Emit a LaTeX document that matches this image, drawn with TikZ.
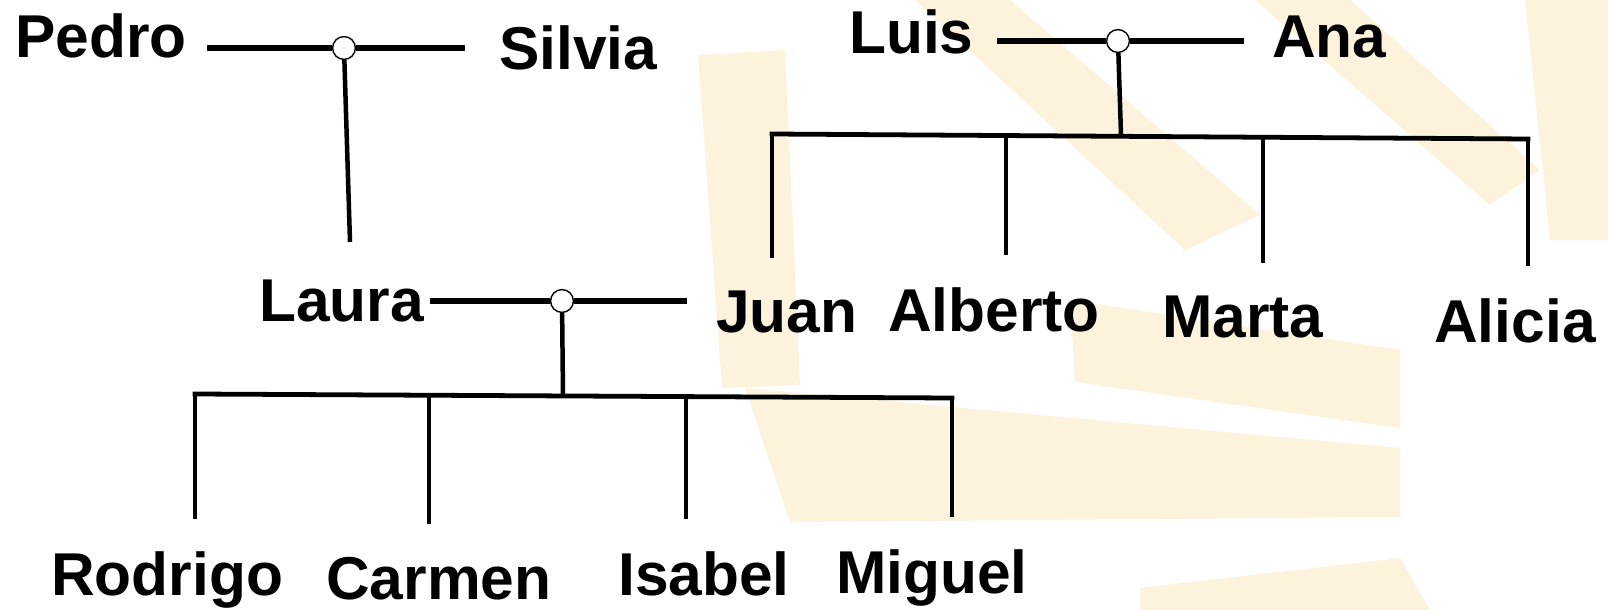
\documentclass[tikz,border=0pt]{standalone}
\usepackage{fontspec}
\setmainfont{Liberation Sans}
\definecolor{raycol}{RGB}{253,243,220}

\begin{document}
\begin{tikzpicture}[x=0.025cm, y=-0.025cm,
    person/.style = {font=\fontsize{43}{48}\selectfont\bfseries,
                     inner sep=0pt, anchor=base west},
    knot/.style = {circle, draw, fill=white, line width=1pt,
                   minimum size=0.57cm, inner sep=0pt},
    couple/.style = {line width=3.6pt},
    stem/.style = {line width=3.2pt},
    bar/.style = {line width=3.4pt, line cap=rect},
    drop/.style = {line width=2.9pt, shorten >=0.8cm},
    ray/.style = {fill=raycol}]

    \useasboundingbox (0,0) rectangle (1608,610);

    % pale rays behind the tree
    \fill[ray] (698,55) -- (785,50) -- (800,385) -- (722,388) -- cycle;
    \fill[ray] (745,388) -- (1400,448) -- (1400,517) -- (790,522) -- cycle;
    \fill[ray] (1070,300) -- (1400,350) -- (1400,428) -- (1075,382) -- cycle;
    \fill[ray] (1140,588) -- (1400,558) -- (1430,610) -- (1140,610) -- cycle;
    \fill[ray] (915,0) -- (1010,0) -- (1260,215) -- (1185,250) -- cycle;
    \fill[ray] (1255,0) -- (1350,0) -- (1540,170) -- (1490,205) -- cycle;
    \fill[ray] (1525,0) -- (1608,0) -- (1608,240) -- (1550,240) -- cycle;

    % grandparents
    \node[person] (pedro) at (15,58) {Pedro};
    \node[person] (silvia) at (499,70) {Silvia};
    \node[person] (luis) at (849,54) {Luis};
    \node[person] (ana) at (1272,58) {Ana};

    % parents
    \node[person] (laura) at (259,321) {Laura};
    \node[person] (juan) at (716,332) {Juan};
    \node[person] (alberto) at (888,331) {Alberto};
    \node[person] (marta) at (1162,337) {Marta};
    \node[person] (alicia) at (1434,342) {Alicia};

    % grandchildren
    \node[person] (rodrigo) at (51,595) {Rodrigo};
    \node[person] (carmen) at (326,599) {Carmen};
    \node[person] (isabel) at (618,595) {Isabel};
    \node[person] (miguel) at (836,593) {Miguel};

    % marriages
    \node[knot] (pedsil) at (344,48) {};
    \node[knot] (luisana) at (1118,41) {};
    \node[knot] (laujuan) at (562,301) {};

    \coordinate (pedsil-end) at (350,242);

    \coordinate (luisana-bar) at (1121,135);
    \coordinate (bar-juan) at (772,134);
    \coordinate (bar-alberto) at (1006,135.5);
    \coordinate (bar-marta) at (1263,137);
    \coordinate (bar-alicia) at (1528,139);

    \coordinate (laujuan-bar) at (563,396);
    \coordinate (bar-rodrigo) at (195,394);
    \coordinate (bar-carmen) at (429,395);
    \coordinate (bar-isabel) at (686,396.5);
    \coordinate (bar-miguel) at (952,398);

    \draw[couple, shorten >=0.5cm] (pedsil) -- (pedsil -| pedro.east);
    \draw[couple, shorten >=0.85cm] (pedsil) -- (pedsil -| silvia.west);
    \draw[couple, shorten >=0.58cm] (luisana) -- (luisana -| luis.east);
    \draw[couple, shorten >=0.7cm] (luisana) -- (luisana -| ana.west);
    \draw[couple, shorten >=0.15cm] (laujuan) -- (laujuan -| laura.east);
    \draw[couple, shorten >=0.72cm] (laujuan) -- (laujuan -| juan.west);

    \draw[stem] (pedsil) -- (pedsil-end);
    \draw[stem] (luisana) -- (luisana-bar);
    \draw[stem] (laujuan) -- (laujuan-bar);

    \draw[bar] (bar-juan) -- (bar-alicia);
    \draw[bar] (bar-rodrigo) -- (bar-miguel);

    \foreach \kid in {juan,alberto,marta,alicia,rodrigo,carmen,isabel,miguel}
      \draw[drop] (bar-\kid) -- (bar-\kid |- \kid.north);

\end{tikzpicture}
\end{document}
